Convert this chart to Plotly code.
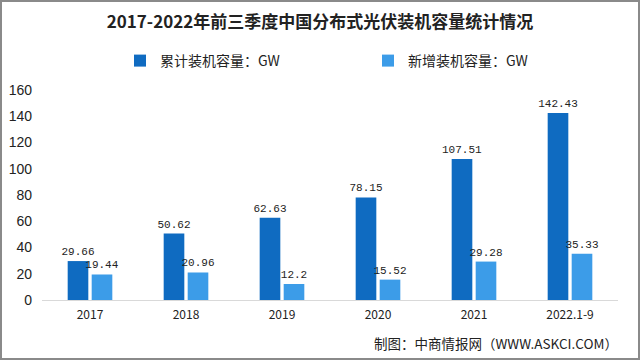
import plotly.graph_objects as go

categories = ["2017", "2018", "2019", "2020", "2021", "2022.1-9"]
cumulative = [29.66, 50.62, 62.63, 78.15, 107.51, 142.43]
added = [19.44, 20.96, 12.2, 15.52, 29.28, 35.33]
y_ticks = [0, 20, 40, 60, 80, 100, 120, 140, 160]

W, H = 640, 360
L, R, T, B = 42, 22, 90, 60
pw, ph = W - L - R, H - T - B

cjk = "Noto Sans CJK SC, Liberation Sans, sans-serif"
num = "Liberation Mono, DejaVu Sans Mono, monospace"

fig = go.Figure()
fig.add_trace(go.Bar(
    x=categories, y=cumulative, name="累计装机容量：GW",
    marker=dict(color="#0f6bc1", line=dict(width=0)),
    text=[f"{v:g}" for v in cumulative], textposition="outside", constraintext="none",
    textfont=dict(family=num, size=11, color="#222"), cliponaxis=False,
))
fig.add_trace(go.Bar(
    x=categories, y=added, name="新增装机容量：GW",
    marker=dict(color="#3c9ce8", line=dict(width=0)),
    text=[f"{v:g}" for v in added], textposition="outside", constraintext="none",
    textfont=dict(family=num, size=11, color="#222"), cliponaxis=False,
))

def px_x(p):
    return (p - L) / pw

def px_y(p):
    return (H - B - p) / ph

fig.update_layout(
    width=W, height=H,
    margin=dict(l=L, r=R, t=T, b=B, autoexpand=False),
    paper_bgcolor="white", plot_bgcolor="white",
    barmode="group", bargap=0.5, bargroupgap=0.14,
    font=dict(family=cjk, color="#222"),
    title=dict(text="<b>2017-2022年前三季度中国分布式光伏装机容量统计情况</b>",
               x=0.5, xanchor="center", y=1 - 22 / H, yanchor="middle",
               font=dict(size=17, color="#222", family=cjk)),
    legend=dict(orientation="h", x=px_x(120), xanchor="left",
                y=px_y(61), yanchor="middle", entrywidth=203,
                font=dict(size=14, family=cjk, color="#222"),
                itemwidth=30, bgcolor="rgba(0,0,0,0)"),
    xaxis=dict(showgrid=False, showline=True, linecolor="#d9d9d9", linewidth=1,
               ticks="", ticklabelstandoff=4,
               tickfont=dict(size=12, family=cjk, color="#222")),
    yaxis=dict(range=[0, 160], tickvals=y_ticks, showgrid=False, zeroline=False,
               showline=False, ticks="", ticklabelstandoff=9,
               tickfont=dict(size=14, family="Liberation Sans", color="#222")),
    annotations=[dict(text="制图：中商情报网（WWW.ASKCI.COM）", xref="paper", yref="paper",
                      x=px_x(620), y=px_y(343), xanchor="right", yanchor="middle",
                      showarrow=False, font=dict(size=13.5, family=cjk, color="#222"))],
    shapes=[dict(type="rect", xref="paper", yref="paper",
                 x0=px_x(1), x1=px_x(639), y0=px_y(359), y1=px_y(1),
                 line=dict(color="#8a8a8a", width=2), fillcolor="rgba(0,0,0,0)")],
)

fig.write_html("out.html", config={"displayModeBar": False},
               post_script="document.body.style.margin='0';document.body.style.overflow='hidden';")
